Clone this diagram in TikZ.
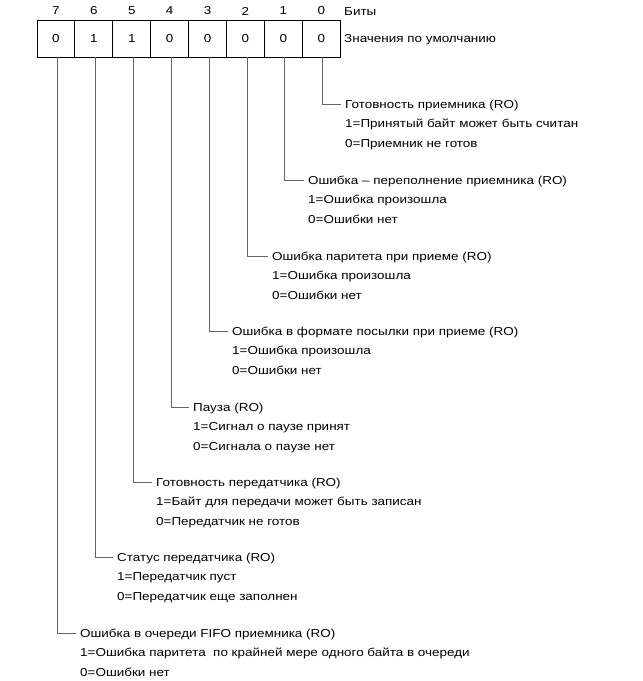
\documentclass[tikz,border=0pt]{standalone}
\usepackage{fontspec}
\setmainfont[FakeStretch=1.17]{Liberation Sans}
\definecolor{conn}{RGB}{100,100,100}
\begin{document}
\begin{tikzpicture}[x=1pt,y=-1pt,
  cell/.style={draw=black,line width=0.9pt,minimum width=37.9pt,minimum height=37pt,inner sep=0pt,anchor=center,font=\fontsize{11.5}{13}\selectfont},
  bitnum/.style={inner sep=0pt,font=\fontsize{11.5}{13}\selectfont},
  txt/.style={inner sep=0pt,anchor=west,text height=8.5pt,text depth=0pt,font=\fontsize{11.5}{13}\selectfont},
  link/.style={draw=conn,line width=0.9pt}]
\useasboundingbox (0,0) rectangle (643,681);
% cells
\foreach \i/\v [count=\k from 0] in {7/0,6/1,5/1,4/0,3/0,2/0,1/0,0/0}{
  \node[cell] (c\i) at ({37+37.9*(\k+0.5)},38.5) {\v};
  \node[bitnum] (b\i) at ({37+37.9*(\k+0.5)},11) {\i};
}
\node[txt] (bits) at (344,11) {Биты};
\node[txt] (defs) at (344,38.5) {Значения по умолчанию};
% descriptions
\newcommand{\descr}[6]{%
  \node[txt] (h#1) at (#2,#3) {#4};
  \node[txt] (p#1) at (#2,#3+19.5) {#5};
  \node[txt] (z#1) at (#2,#3+39) {#6};
  \draw[link] ([xshift=1.5pt]c#1.south) |- ([xshift=-4pt]h#1.west);
}
\descr{0}{345}{104}{Готовность приемника (RO)}{1=Принятый байт может быть считан}{0=Приемник не готов}
\descr{1}{308}{180}{Ошибка – переполнение приемника (RO)}{1=Ошибка произошла}{0=Ошибки нет}
\descr{2}{272}{256}{Ошибка паритета при приеме (RO)}{1=Ошибка произошла}{0=Ошибки нет}
\descr{3}{232}{331}{Ошибка в формате посылки при приеме (RO)}{1=Ошибка произошла}{0=Ошибки нет}
\descr{4}{193}{407}{Пауза (RO)}{1=Сигнал о паузе принят}{0=Сигнала о паузе нет}
\descr{5}{156}{482}{Готовность передатчика (RO)}{1=Байт для передачи может быть записан}{0=Передатчик не готов}
\descr{6}{117}{557}{Статус передатчика (RO)}{1=Передатчик пуст}{0=Передатчик еще заполнен}
\descr{7}{80}{633}{Ошибка в очереди FIFO приемника (RO)}{1=Ошибка паритета\ \ по крайней мере одного байта в очереди}{0=Ошибки нет}
\end{tikzpicture}
\end{document}
